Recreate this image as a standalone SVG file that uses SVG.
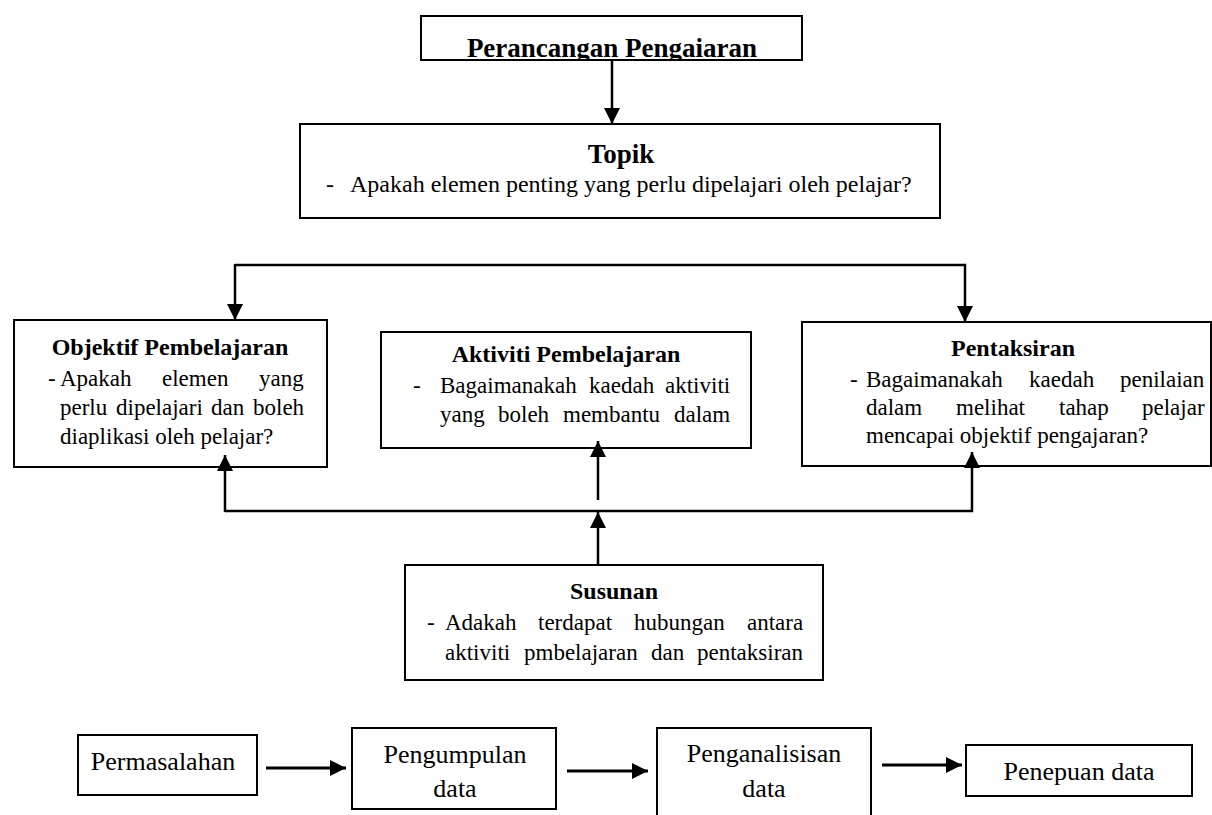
<svg xmlns="http://www.w3.org/2000/svg" width="1212" height="815" viewBox="0 0 1212 815">
  <style>
    .box { fill: #ffffff; stroke: #000000; stroke-width: 2; }
    .t { font-family: "Liberation Serif", "Times New Roman", serif; fill: #000000; }
    .title { font-size: 24px; font-weight: bold; text-anchor: middle; }
    .body { font-size: 23px; }
    .flow { font-size: 26px; text-anchor: middle; }
    .wire { fill: none; stroke: #000000; stroke-width: 2.5; }
    .wire-b { fill: none; stroke: #000000; stroke-width: 3; }
  </style>
  <defs>
    <marker id="arrow" markerUnits="userSpaceOnUse" markerWidth="16" markerHeight="16" viewBox="0 0 16 16" refX="16" refY="8" orient="auto">
      <path d="M0,0 L16,8 L0,16 Z" fill="#000000"/>
    </marker>
    <clipPath id="clip-head">
      <rect x="421" y="16" width="381" height="44"/>
    </clipPath>
  </defs>

  <g id="node-perancangan">
    <rect class="box" x="421" y="16" width="381" height="44"/>
    <text class="t title" x="612" y="57" style="font-size:27px" clip-path="url(#clip-head)">Perancangan Pengaiaran</text>
  </g>

  <g id="node-topik">
    <rect class="box" x="300" y="124" width="640" height="94"/>
    <text class="t title" x="621" y="163" style="font-size:27px">Topik</text>
    <text class="t body" x="326" y="192" style="font-size:24px">-</text>
    <text class="t body" x="350" y="192" style="font-size:24px">Apakah elemen penting yang perlu dipelajari oleh pelajar?</text>
  </g>

  <g id="node-objektif">
    <rect class="box" x="14" y="320" width="313" height="147"/>
    <text class="t title" x="170" y="355">Objektif Pembelajaran</text>
    <text class="t body" x="48" y="386">-</text>
    <text class="t body" y="386"><tspan x="60">Apakah</tspan><tspan x="162">elemen</tspan><tspan x="259">yang</tspan></text>
    <text class="t body" y="415"><tspan x="60">perlu</tspan><tspan x="116">dipelajari</tspan><tspan x="211">dan</tspan><tspan x="253">boleh</tspan></text>
    <text class="t body" x="60" y="444">diaplikasi oleh pelajar?</text>
  </g>

  <g id="node-aktiviti">
    <rect class="box" x="381" y="332" width="370" height="116"/>
    <text class="t title" x="566" y="362">Aktiviti Pembelajaran</text>
    <text class="t body" x="413" y="393">-</text>
    <text class="t body" y="393"><tspan x="440">Bagaimanakah</tspan><tspan x="589">kaedah</tspan><tspan x="665">aktiviti</tspan></text>
    <text class="t body" y="422"><tspan x="440">yang</tspan><tspan x="498">boleh</tspan><tspan x="563">membantu</tspan><tspan x="674">dalam</tspan></text>
  </g>

  <g id="node-pentaksiran">
    <rect class="box" x="802" y="322" width="409" height="144"/>
    <text class="t title" x="1013" y="356">Pentaksiran</text>
    <text class="t body" x="850" y="387">-</text>
    <text class="t body" y="387"><tspan x="866">Bagaimanakah</tspan><tspan x="1029">kaedah</tspan><tspan x="1120">penilaian</tspan></text>
    <text class="t body" y="415"><tspan x="866">dalam</tspan><tspan x="956">melihat</tspan><tspan x="1059">tahap</tspan><tspan x="1142">pelajar</tspan></text>
    <text class="t body" x="866" y="443">mencapai objektif pengajaran?</text>
  </g>

  <g id="node-susunan">
    <rect class="box" x="405" y="565" width="418" height="115"/>
    <text class="t title" x="614" y="599">Susunan</text>
    <text class="t body" x="427" y="630">-</text>
    <text class="t body" y="630"><tspan x="445">Adakah</tspan><tspan x="538">terdapat</tspan><tspan x="634">hubungan</tspan><tspan x="747">antara</tspan></text>
    <text class="t body" y="660"><tspan x="445">aktiviti</tspan><tspan x="524">pmbelajaran</tspan><tspan x="651">dan</tspan><tspan x="697">pentaksiran</tspan></text>
  </g>

  <g id="node-permasalahan">
    <rect class="box" x="78" y="735" width="179" height="60"/>
    <text class="t flow" x="163" y="770">Permasalahan</text>
  </g>

  <g id="node-pengumpulan">
    <rect class="box" x="352" y="728" width="204" height="81"/>
    <text class="t flow" x="455" y="763">Pengumpulan</text>
    <text class="t flow" x="455" y="797">data</text>
  </g>

  <g id="node-penganalisisan">
    <rect class="box" x="657" y="728" width="214" height="100"/>
    <text class="t flow" x="764" y="762">Penganalisisan</text>
    <text class="t flow" x="764" y="797">data</text>
  </g>

  <g id="node-penepuan">
    <rect class="box" x="966" y="745" width="226" height="51"/>
    <text class="t flow" x="1079" y="780">Penepuan data</text>
  </g>

  <!-- connectors, drawn last so arrowheads sit over box borders -->
  <g id="connectors">
    <line class="wire" x1="612" y1="61" x2="612" y2="124" marker-end="url(#arrow)"/>
    <polyline class="wire" points="235,265 965,265 965,322" marker-end="url(#arrow)"/>
    <line class="wire" x1="235" y1="264" x2="235" y2="320" marker-end="url(#arrow)"/>
    <line class="wire" x1="225" y1="511" x2="973" y2="511"/>
    <line class="wire" x1="225" y1="512" x2="225" y2="455" marker-end="url(#arrow)"/>
    <line class="wire" x1="972" y1="512" x2="972" y2="452" marker-end="url(#arrow)"/>
    <line class="wire" x1="598" y1="500" x2="598" y2="441" marker-end="url(#arrow)"/>
    <line class="wire" x1="598" y1="565" x2="598" y2="512" marker-end="url(#arrow)"/>
    <line class="wire-b" x1="266" y1="768" x2="346" y2="768" marker-end="url(#arrow)"/>
    <line class="wire-b" x1="567" y1="771" x2="648" y2="771" marker-end="url(#arrow)"/>
    <line class="wire-b" x1="882" y1="765" x2="962" y2="765" marker-end="url(#arrow)"/>
  </g>
</svg>
